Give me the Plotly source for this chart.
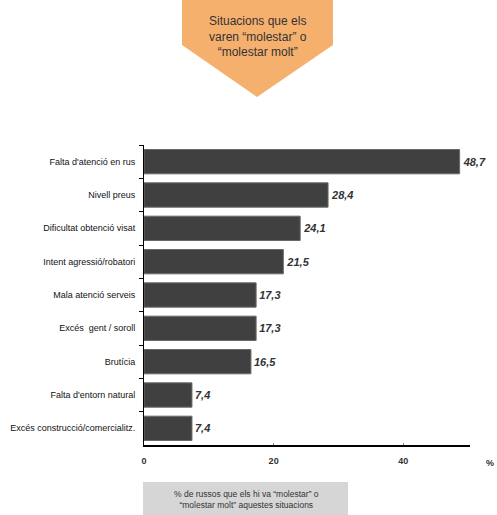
import plotly.graph_objects as go

categories = [
    "Falta d'atenció en rus",
    "Nivell preus",
    "Dificultat obtenció visat",
    "Intent agressió/robatori",
    "Mala atenció serveis",
    "Excés  gent / soroll",
    "Brutícia",
    "Falta d'entorn natural",
    "Excés construcció/comercialitz.",
]
values = [48.7, 28.4, 24.1, 21.5, 17.3, 17.3, 16.5, 7.4, 7.4]
x_ticks = [0, 20, 40]

W, H = 497, 515
L, R, T, B = 144, 470, 145, 445


def px(x):
    return (x - L) / (R - L)


def py(y):
    return (B - y) / (B - T)


labels = [f"{v:.1f}".replace(".", ",") for v in values]

fig = go.Figure(
    go.Bar(
        x=values,
        y=categories,
        orientation="h",
        marker=dict(color="#404040", line=dict(color="#6a6a6a", width=1)),
        width=0.73,
        text=labels,
        textposition="outside",
        textfont=dict(family="Liberation Sans, Arial", size=11, color="#333333"),
        texttemplate="<b><i>%{text}</i></b>",
        cliponaxis=False,
        hoverinfo="skip",
    )
)

fig.update_yaxes(
    categoryorder="array",
    categoryarray=categories,
    autorange="reversed",
    showline=True,
    linecolor="#000000",
    linewidth=1,
    ticks="outside",
    ticklen=4,
    tickcolor="#000000",
    tickson="boundaries",
    tickfont=dict(family="Liberation Sans, Arial", size=9, color="#111111"),
    ticklabelstandoff=6,
    showgrid=False,
    automargin=False,
)
fig.update_xaxes(
    range=[0, 50.3],
    tickvals=x_ticks,
    ticktext=[f"<b>{t}</b>" for t in x_ticks],
    showline=True,
    linecolor="#000000",
    linewidth=2,
    ticks="inside",
    ticklen=2,
    tickcolor="#888888",
    tickfont=dict(family="Liberation Sans, Arial", size=9, color="#333333"),
    ticklabelstandoff=6,
    showgrid=False,
    zeroline=False,
    automargin=False,
)

shapes = [
    dict(
        type="path",
        xref="paper",
        yref="paper",
        path=(
            f"M {px(182)} {py(-2)} L {px(333)} {py(-2)} L {px(333)} {py(45)} "
            f"L {px(257)} {py(97)} L {px(182)} {py(45)} Z"
        ),
        fillcolor="#F5B06E",
        line=dict(width=0),
        layer="below",
    ),
    dict(
        type="rect",
        xref="paper",
        yref="paper",
        x0=px(143),
        x1=px(348),
        y0=py(482),
        y1=py(516),
        fillcolor="#d6d6d6",
        line=dict(width=0),
        layer="below",
    ),
]

annotations = [
    dict(
        xref="paper",
        yref="paper",
        x=px(258),
        y=py(37),
        text="Situacions que els<br>varen “molestar” o<br>“molestar molt”",
        showarrow=False,
        font=dict(family="Liberation Sans, Arial", size=12, color="#333333"),
        align="center",
        xanchor="center",
        yanchor="middle",
    ),
    dict(
        xref="paper",
        yref="paper",
        x=px(246),
        y=py(499),
        text="% de russos que els hi va “molestar” o<br>“molestar molt” aquestes situacions",
        showarrow=False,
        font=dict(family="Liberation Sans, Arial", size=8.5, color="#333333"),
        align="center",
        xanchor="center",
        yanchor="middle",
    ),
    dict(
        xref="paper",
        yref="paper",
        x=px(490),
        y=py(463),
        text="<b>%</b>",
        showarrow=False,
        font=dict(family="Liberation Sans, Arial", size=9, color="#333333"),
        xanchor="center",
        yanchor="middle",
    ),
]

fig.update_layout(
    width=W,
    height=H,
    margin=dict(l=L, r=W - R, t=T, b=H - B, pad=0),
    paper_bgcolor="#ffffff",
    plot_bgcolor="#ffffff",
    showlegend=False,
    bargap=0.27,
    shapes=shapes,
    annotations=annotations,
)

fig.write_html(
    "out.html",
    config={"displayModeBar": False},
    post_script="document.body.style.margin='0';document.body.style.padding='0';document.body.style.overflow='hidden';",
)
